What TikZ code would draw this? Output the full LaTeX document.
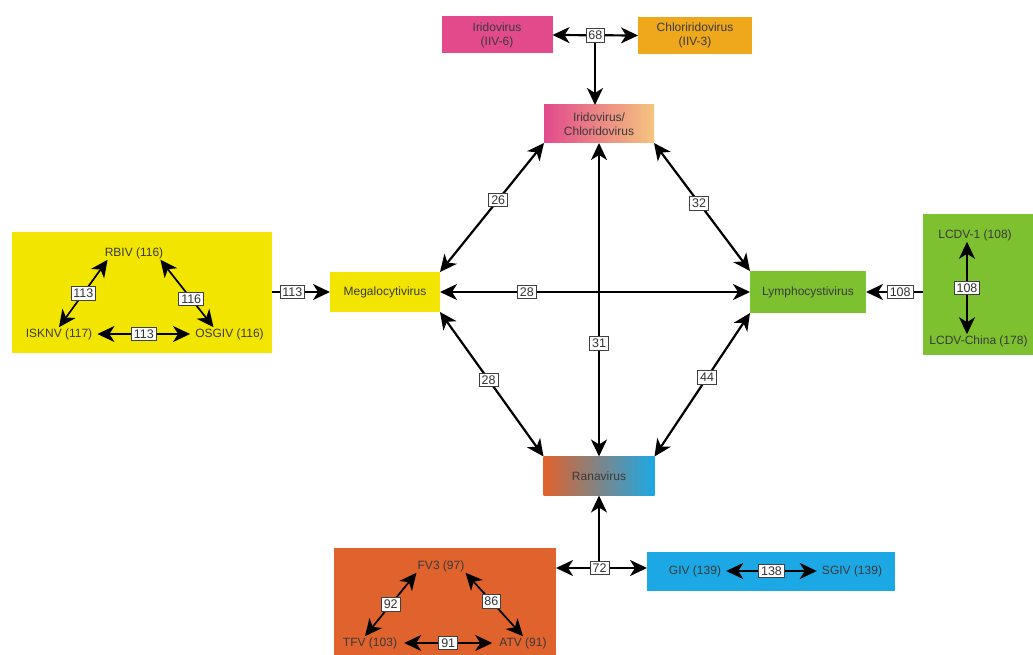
\documentclass[tikz,border=0pt]{standalone}
\usepackage{fontspec}
\setmainfont{Liberation Sans}
\usetikzlibrary{arrows.meta,calc}
\definecolor{magenta1}{HTML}{E24A8C}
\definecolor{orange1}{HTML}{EFA81C}
\definecolor{lightorange}{HTML}{F5C47E}
\definecolor{yellow1}{HTML}{F2E600}
\definecolor{green1}{HTML}{7DC130}
\definecolor{rana}{HTML}{E0622C}
\definecolor{ranamid}{HTML}{8F8A88}
\definecolor{blue1}{HTML}{1CA8E4}
\definecolor{txt}{HTML}{3A3A3A}
\begin{document}
\begin{tikzpicture}[x=1pt,y=-1pt,
  font=\fontsize{12}{14}\selectfont,
  >={Stealth[length=17pt,width=16pt,inset=5pt]},
  box/.style={inner sep=0pt, outer sep=0pt, align=center, text=txt},
  lbl/.style={inner sep=1pt, text=txt},
  num/.style={draw=black!75, fill=white, line width=0.8pt, inner sep=2.4pt,
    font=\fontsize{12.5}{13}\selectfont, text=black!80},
  conn/.style={line width=2.2pt},
  plink/.style={line width=1.7pt, <->}]
\useasboundingbox (0,0) rectangle (1033,655);

% main boxes
\node[box, fill=magenta1, minimum width=111pt, minimum height=37pt] (iri) at (497,35) {Iridovirus\\(IIV-6)};
\node[box, fill=orange1, minimum width=114pt, minimum height=37pt] (chl) at (695,35.5) {Chloriridovirus\\(IIV-3)};
\node[box, left color=magenta1, middle color=magenta1!65!lightorange, right color=lightorange,
  minimum width=110pt, minimum height=38pt] (irichl) at (599,124) {Iridovirus/\\Chloridovirus};
\node[box, fill=yellow1, minimum width=110pt, minimum height=40pt] (mega) at (385,292) {Megalocytivirus};
\node[box, fill=green1, minimum width=116pt, minimum height=42pt] (lym) at (808,292) {Lymphocystivirus};
\node[box, left color=rana, middle color=ranamid, right color=blue1,
  minimum width=111pt, minimum height=39pt] (rana) at (599,476) {Ranavirus};

% panels
\node[box, fill=yellow1, minimum width=260pt, minimum height=121pt] (lpan) at (142,292.5) {};
\node[box, fill=green1, minimum width=111pt, minimum height=141pt] (rpan) at (978.5,284.5) {};
\node[box, fill=rana, minimum width=222pt, minimum height=107pt] (opan) at (445,601.5) {};
\node[box, fill=blue1, minimum width=248pt, minimum height=39pt] (blu) at (771,571) {};

% panel texts
\node[lbl] (rbiv) at (134,253) {RBIV (116)};
\node[lbl] (isknv) at (59,334) {ISKNV (117)};
\node[lbl] (osgiv) at (229.5,334) {OSGIV (116)};
\node[lbl] (lcdv1) at (975,235) {LCDV-1 (108)};
\node[lbl] (lcdvc) at (978.5,341) {LCDV-China (178)};
\node[lbl] (fv3) at (441,566) {FV3 (97)};
\node[lbl] (tfv) at (370,643) {TFV (103)};
\node[lbl] (atv) at (523,643) {ATV (91)};
\node[lbl] (giv) at (695,571) {GIV (139)};
\node[lbl] (sgiv) at (852,571) {SGIV (139)};

% junctions
\coordinate (j68) at (595,35);
\coordinate (j72) at (599,568);

% top connections
\draw[conn,->] (j68) -- (j68 |- irichl.north);
\draw[conn,<->] (iri.east) -- node[num,pos=0.5]{68} (chl.west);

% central connections
\draw[conn,<->] (irichl.south) -- node[num,pos=0.64]{31} (rana.north);
\draw[conn,<->] (irichl.south west) -- node[num,pos=0.44]{26} (mega.north east);
\draw[conn,<->] (irichl.south east) -- node[num,pos=0.47]{32} (lym.north west);
\draw[conn,<->] (mega.east) -- node[num,pos=0.28]{28} (lym.west);
\draw[conn,<->] (mega.south east) -- node[num,pos=0.47]{28} (rana.north west);
\draw[conn,<->] (lym.south west) -- node[num,pos=0.45]{44} (rana.north east);

% panel to box
\draw[conn,->] (lpan.east |- mega.west) -- node[num,pos=0.35]{113} (mega.west);
\draw[conn,->] (rpan.west |- lym.east) -- node[num,pos=0.4]{108} (lym.east);
\draw[conn,->] (j72) -- (j72 |- rana.south);
\draw[conn,<->] (opan.east |- j72) -- node[num,pos=0.48]{72} (blu.west |- j72);

% left panel
\draw[plink] ([xshift=4pt]rbiv.south west) -- node[num]{113} (isknv.north);
\draw[plink] ([xshift=-4pt]rbiv.south east) -- node[num,pos=0.58]{116} ([xshift=-16pt]osgiv.north);
\draw[plink, shorten <=4pt, shorten >=4pt] (isknv.east) -- node[num]{113} (osgiv.west);

% right panel
\draw[plink] ([xshift=-8pt]lcdv1.south) -- node[num]{108} ([xshift=-11.5pt]lcdvc.north);

% orange panel
\draw[plink] (fv3.south west) -- node[num]{92} ([xshift=-5pt]tfv.north);
\draw[plink] (fv3.south east) -- node[num,pos=0.45]{86} (atv.north);
\draw[plink, shorten <=6pt, shorten >=6pt] (tfv.east) -- node[num]{91} (atv.west);

% blue box
\draw[plink, shorten <=4pt, shorten >=4pt] (giv.east) -- node[num]{138} (sgiv.west);
\end{tikzpicture}
\end{document}
